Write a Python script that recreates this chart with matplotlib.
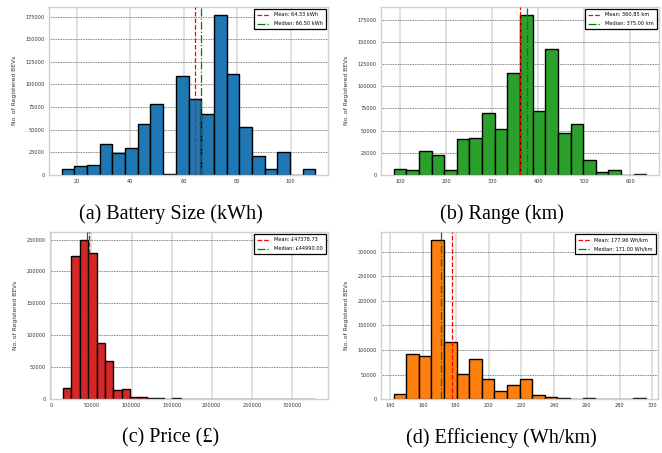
import matplotlib.pyplot as plt
import numpy as np

# histogram counts (20 or 30 equal bins between lo and hi)
battery_range = (14.4, 109.2)
battery_counts = [6300, 10000, 10400, 34500, 24500, 30000, 56400, 78300, 1100, 109000,
                  83800, 67100, 177000, 111300, 52700, 21100, 6300, 25600, 300, 7000]
battery_mean, battery_median = 64.33, 66.50

range_range = (85.5, 635.0)
range_counts = [6100, 5000, 26400, 22200, 5000, 40600, 41700, 69700, 51700, 114900,
                180700, 71600, 142400, 46700, 57400, 16500, 3000, 5700, 300, 1500]
range_mean, range_median = 360.85, 375.00

price_range = (14500, 329000)
price_counts = [17400, 225000, 249500, 228900, 88300, 59200, 14300, 16400, 3700, 2600,
                2000, 1800, 500, 1500, 300, 300, 250, 200, 200, 150,
                150, 150, 100, 100, 100, 100, 100, 100, 100, 200]
price_mean, price_median = 47378.73, 44990.00

eff_range = (142.0, 296.0)
eff_counts = [11000, 92000, 87200, 324200, 116000, 50800, 82400, 40500, 17200, 28200,
              41900, 8200, 4800, 2700, 700, 2700, 500, 500, 300, 2500]
eff_mean, eff_median = 177.96, 171.00

panels = [
    ("(a) Battery Size (kWh)", battery_range, battery_counts, battery_mean, battery_median,
     "Mean: {:.2f} kWh", "Median: {:.2f} kWh", "tab:blue"),
    ("(b) Range (km)", range_range, range_counts, range_mean, range_median,
     "Mean: {:.2f} km", "Median: {:.2f} km", "tab:green"),
    ("(c) Price (£)", price_range, price_counts, price_mean, price_median,
     "Mean: £{:.2f}", "Median: £{:.2f}", "tab:red"),
    ("(d) Efficiency (Wh/km)", eff_range, eff_counts, eff_mean, eff_median,
     "Mean: {:.2f} Wh/km", "Median: {:.2f} Wh/km", "tab:orange"),
]

# axes boxes [left, bottom, width, height] and caption centres, in figure fraction
boxes = [
    [0.074, 0.614, 0.4215, 0.371],
    [0.5755, 0.614, 0.420, 0.371],
    [0.076, 0.119, 0.4195, 0.369],
    [0.5755, 0.119, 0.419, 0.369],
]
captions_xy = [(0.258, 0.528), (0.758, 0.528), (0.258, 0.033), (0.758, 0.033)]

fig = plt.figure(figsize=(6.62, 4.53), dpi=100)

for (title, (lo, hi), counts, mean, median, mfmt, medfmt, color), box, cxy in zip(panels, boxes, captions_xy):
    ax = fig.add_axes(box)
    edges = np.linspace(lo, hi, len(counts) + 1)
    ax.bar(edges[:-1], counts, width=np.diff(edges), align='edge',
           color=color, edgecolor='black', linewidth=1.0, zorder=2)
    ax.axvline(mean, color='red', linestyle='--', linewidth=0.9, label=mfmt.format(mean), zorder=3)
    ax.axvline(median, color='green', linestyle='-.', linewidth=0.9, label=medfmt.format(median), zorder=3)

    ax.set_axisbelow(True)
    ax.grid(axis='x', color='#d9d9d9', linewidth=1.1)
    ax.grid(axis='y', color='#555555', linestyle=(0, (1, 1)), linewidth=0.6)
    for s in ax.spines.values():
        s.set_color('#d0d0d0')
        s.set_linewidth(1.0)
    ax.tick_params(length=0, labelsize=3.6, labelcolor='#333333', pad=3)
    ax.set_ylabel("No. of Registered BEVs", fontsize=4.3, color='#333333', labelpad=6)

    leg = ax.legend(loc='upper right', fontsize=3.6, fancybox=False, framealpha=1,
                    edgecolor='black', handlelength=2.5, borderpad=0.6, labelspacing=0.8)
    leg.get_frame().set_linewidth(0.9)

    fig.text(cxy[0], cxy[1], title, ha='center', va='center',
             fontsize=14.5, family='Liberation Serif')

fig.savefig("out.png", dpi=100)
